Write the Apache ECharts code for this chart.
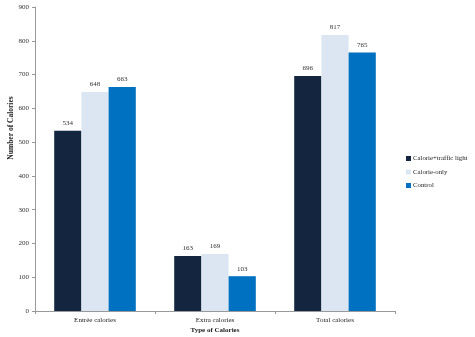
<!DOCTYPE html>
<html>
<head>
<meta charset="utf-8">
<script src="https://cdn.jsdelivr.net/npm/echarts@6/dist/echarts.min.js"></script>
<style>
html,body{margin:0;padding:0;background:#fff;}
#chart{width:475px;height:337px;}
</style>
</head>
<body>
<div id="chart"></div>
<script>
// Calorie intake by labelling condition
const categories = ['Entrée calories', 'Extra calories', 'Total calories'];
const seriesNames = ['Calorie+traffic light', 'Calorie-only', 'Control'];
const trafficLight = [534, 163, 696];
const calorieOnly = [648, 169, 817];
const control = [663, 103, 765];
const yTicks = [0, 100, 200, 300, 400, 500, 600, 700, 800, 900];

const colors = ['#14263F', '#DCE6F2', '#0070C0'];
const font = '"Liberation Serif", "Times New Roman", serif';

const chart = echarts.init(document.getElementById('chart'));

function bar(name, data, color) {
  return {
    name: name,
    type: 'bar',
    data: data,
    barGap: '0%',
    barCategoryGap: '32%',
    itemStyle: { color: color },
    label: {
      show: true,
      position: 'top',
      distance: 4,
      fontFamily: font,
      fontSize: 7,
      color: '#333'
    }
  };
}

chart.setOption({
  animation: false,
  textStyle: { fontFamily: font },
  grid: { left: 35, right: 80, top: 7, bottom: 26, containLabel: false, outerBoundsMode: 'none' },
  legend: {
    orient: 'vertical',
    left: 406,
    top: 155,
    padding: 0,
    itemWidth: 5,
    itemHeight: 5,
    itemGap: 6.5,
    icon: 'rect',
    textStyle: { fontFamily: font, fontSize: 6.8, color: '#222', padding: [0, 0, 0, -3] },
    data: seriesNames
  },
  xAxis: {
    type: 'category',
    data: categories,
    name: 'Type of Calories',
    nameLocation: 'middle',
    nameGap: 16,
    nameMoveOverlap: false,
    nameTextStyle: { fontFamily: font, fontSize: 7, fontWeight: 'bold', color: '#222' },
    axisLine: { lineStyle: { color: '#999' } },
    axisTick: { show: true, length: 3, lineStyle: { color: '#999' } },
    axisLabel: { fontFamily: font, fontSize: 7, color: '#222', margin: 6 }
  },
  yAxis: {
    type: 'value',
    min: yTicks[0],
    max: yTicks[yTicks.length - 1],
    interval: 100,
    name: 'Number of Calories',
    nameLocation: 'middle',
    nameGap: 20,
    nameMoveOverlap: false,
    nameTextStyle: { fontFamily: font, fontSize: 7.5, fontWeight: 'bold', color: '#222', padding: [0, 0, 0, 62] },
    axisLine: { show: true, lineStyle: { color: '#999' } },
    axisTick: { show: true, length: 3, lineStyle: { color: '#999' } },
    axisLabel: { fontFamily: font, fontSize: 7, color: '#333', margin: 6 },
    splitLine: { show: false }
  },
  series: [
    bar(seriesNames[0], trafficLight, colors[0]),
    bar(seriesNames[1], calorieOnly, colors[1]),
    bar(seriesNames[2], control, colors[2])
  ]
});
</script>
</body>
</html>
